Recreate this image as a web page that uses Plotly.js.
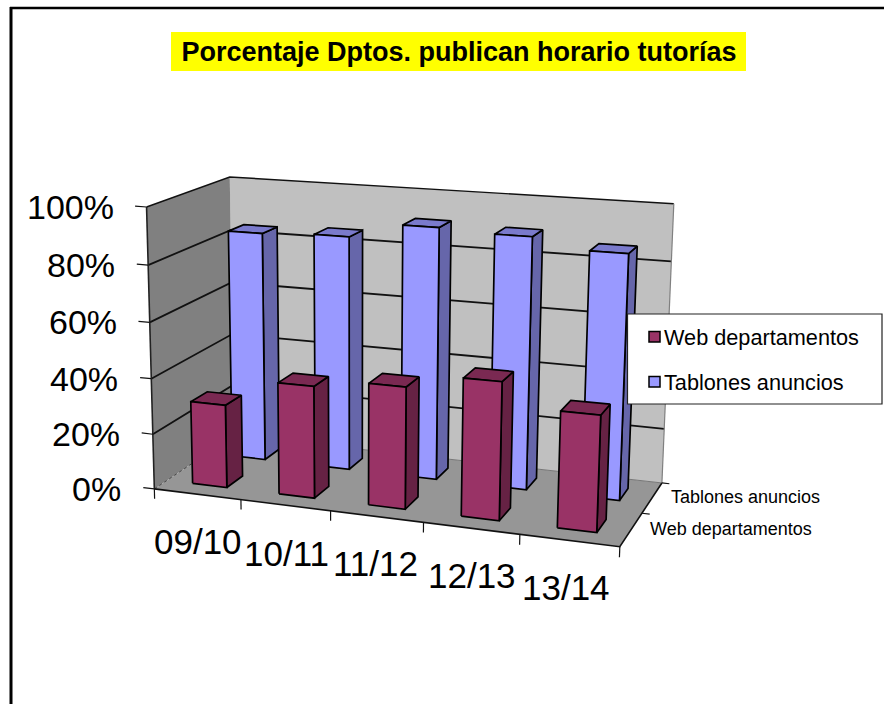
<!DOCTYPE html>
<html><head><meta charset="utf-8">
<script src="https://cdn.plot.ly/plotly-3.0.1.min.js"></script>
<style>html,body{margin:0;padding:0;background:#fff}#chart{width:884px;height:704px}</style>
</head><body><div id="chart"></div>
<script>
const titleText = 'Porcentaje Dptos. publican horario tutorías';
const categories = ['09/10','10/11','11/12','12/13','13/14'];
const seriesNames = ['Web departamentos','Tablones anuncios'];
const webValues = [30,40,43,48,40];
const tablonValues = [84.5,85.5,91,90,86.5];
const valueTicks = [0,20,40,60,80,100];
const depthLabels = ['Web departamentos','Tablones anuncios'];

// camera calibration: [category, depth, value] -> picture position
const calib = [
 [0,0,0,156,489],[1,0,0,242,500.5],[2,0,0,331,512],[3,0,0,423,523],[4,0,0,519,534.5],[5,0,0,620,546.5],
 [0,2,0,232,435],[5,2,0,663,482],[5,1,0,641,513],
 [0,0,100,145,207],[0,0,50,150.5,348],[0,2,100,231,178],[5,2,100,674,204]
];
function solve(A,b){const n=b.length;A=A.map((r,i)=>[...r,b[i]]);
 for(let i=0;i<n;i++){let m=i;for(let k=i+1;k<n;k++)if(Math.abs(A[k][i])>Math.abs(A[m][i]))m=k;
  [A[i],A[m]]=[A[m],A[i]];
  for(let k=0;k<n;k++){if(k===i)continue;const f=A[k][i]/A[i][i];for(let j=i;j<=n;j++)A[k][j]-=f*A[i][j];}}
 return A.map((r,i)=>r[n]/r[i]);}
const rows=[],rhs=[];
calib.forEach(([a,b,c,px,py])=>{const X=a/5,Y=b/2,Z=c/100,u=px/1000,v=py/1000;
 rows.push([X,Y,Z,1,0,0,0,0,-u*X,-u*Y,-u*Z]);rhs.push(u);
 rows.push([0,0,0,0,X,Y,Z,1,-v*X,-v*Y,-v*Z]);rhs.push(v);});
const N=rows[0].length,AtA=Array.from({length:N},()=>Array(N).fill(0)),Atb=Array(N).fill(0);
rows.forEach((r,i)=>{for(let a=0;a<N;a++){Atb[a]+=r[a]*rhs[i];for(let b=0;b<N;b++)AtA[a][b]+=r[a]*r[b];}});
const m=solve(AtA,Atb);
function P(a,b,c){const X=a/5,Y=b/2,Z=c/100,w=m[8]*X+m[9]*Y+m[10]*Z+1;
 return [1000*(m[0]*X+m[1]*Y+m[2]*Z+m[3])/w,1000*(m[4]*X+m[5]*Y+m[6]*Z+m[7])/w];}

const traces=[];
function poly(pts,fill,lineColor,lw,name){const q=pts.map(p=>P(...p));q.push(q[0]);
 traces.push({type:'scatter',mode:lineColor?'lines':'none',x:q.map(p=>p[0]),y:q.map(p=>p[1]),fill:'toself',fillcolor:fill,
  line:{color:lineColor||fill,width:lw||0},showlegend:false,hoverinfo:'skip',name:name||''});}
function line(pts,color,lw,dash){const q=pts.map(p=>P(...p));
 traces.push({type:'scatter',mode:'lines',x:q.map(p=>p[0]),y:q.map(p=>p[1]),line:{color:color,width:lw,dash:dash||'solid'},showlegend:false,hoverinfo:'skip'});}

// walls and floor
poly([[0,2,0],[5,2,0],[5,2,100],[0,2,100]],'#c0c0c0');
poly([[0,0,0],[0,2,0],[0,2,100],[0,0,100]],'#808080');
poly([[0,0,0],[5,0,0],[5,2,0],[0,2,0]],'#969696');
valueTicks.slice(1).forEach(t=>line([[0,0,t],[0,2,t],[5,2,t]],'#111',t===100?1.4:1.8));
line([[5,2,0],[5,2,100]],'#808080',1.2);
line([[0,0,0],[0,0,100]],'#222',1.6);
line([[0,0,0],[0,2,0]],'#444',1,'dot');
line([[0,2,0],[5,2,0]],'#777',1);
line([[0,0,0],[5,0,0],[5,2,0]],'#111',1.6);
// ticks
valueTicks.forEach(t=>line([[0,0,t],[-0.13,0,t]],'#111',1.2));
for(let i=0;i<=categories.length;i++) line([[i,0,0],[i,0,-3.6]],'#111',1.2);
[1,2].forEach(d=>line([[5,d,0],[5.08,d,0]],'#111',1.2));

function bar(i,row,val,front,side,top){
 const a=i+0.3,b=i+0.7,c=row+0.3,d=row+0.7;
 poly([[b,c,0],[b,d,0],[b,d,val],[b,c,val]],side,'#000',1.7);
 poly([[a,c,val],[b,c,val],[b,d,val],[a,d,val]],top,'#000',1.7);
 poly([[a,c,0],[b,c,0],[b,c,val],[a,c,val]],front,'#000',1.7);
}
tablonValues.forEach((v,i)=>bar(i,1,v,'#9999ff','#6666aa','#7a7acc'));
webValues.forEach((v,i)=>bar(i,0,v,'#993366','#662244','#7a2952'));

const font='"Liberation Sans",Arial,sans-serif';
const ann=[];
function label(text,x,y,size,anchor){ann.push({text:text,x:x,y:y,xref:'x',yref:'y',showarrow:false,xanchor:anchor||'center',yanchor:'middle',
 font:{family:font,size:size,color:'#000'}});}
valueTicks.forEach(t=>{const p=P(0,0,t);label(t+'%',p[0]-31,p[1],34,'right');});
const catY=[541,553,563,575,587],catX=[198,286,375,472,566];
categories.forEach((c,i)=>label(c,catX[i],catY[i],35));
label(depthLabels[1],668.5,497,18,'left');
label(depthLabels[0],647.5,529,18,'left');
label(seriesNames[0],662,337,21.7,'left');
label(seriesNames[1],662,382,21.7,'left');

const shapes=[
 {type:'rect',xref:'x',yref:'y',x0:171,x1:746,y0:32,y1:71,fillcolor:'#ffff00',line:{width:0},layer:'below'},
 {type:'line',xref:'x',yref:'y',x0:11,x1:11,y0:7,y1:704,line:{color:'#000',width:3}},
 {type:'line',xref:'x',yref:'y',x0:10,x1:884,y0:8,y1:8,line:{color:'#000',width:2.5}},
 {type:'rect',xref:'x',yref:'y',x0:627.5,x1:882,y0:314,y1:404,fillcolor:'#fff',line:{color:'#222',width:1.2},layer:'above'},
 {type:'rect',xref:'x',yref:'y',x0:649,x1:660,y0:331.5,y1:342,fillcolor:'#993366',line:{color:'#000',width:1.5},layer:'above'},
 {type:'rect',xref:'x',yref:'y',x0:649,x1:660,y0:376.5,y1:387,fillcolor:'#9999ff',line:{color:'#000',width:1.5},layer:'above'}
];
Plotly.newPlot('chart',traces,{
 width:884,height:704,margin:{l:0,r:0,t:0,b:0},paper_bgcolor:'#fff',plot_bgcolor:'#fff',showlegend:false,
 title:{text:'<b>'+titleText+'</b>',font:{family:font,size:27,color:'#000'},x:459/884,xref:'paper',xanchor:'center',y:1-52/704,yref:'paper',yanchor:'middle'},
 xaxis:{range:[0,884],visible:false,fixedrange:true},
 yaxis:{range:[704,0],visible:false,fixedrange:true},
 shapes:shapes,annotations:ann
},{displayModeBar:false,staticPlot:true});
</script></body></html>
